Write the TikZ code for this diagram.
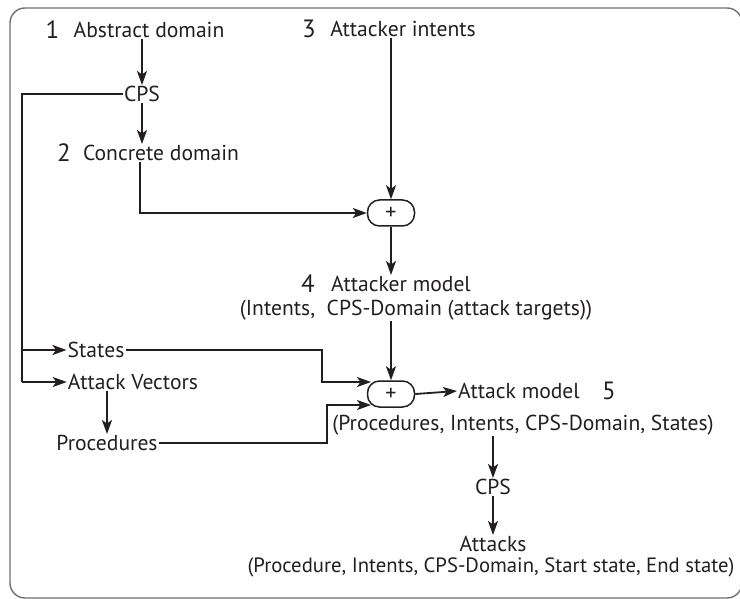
\documentclass[tikz,border=0pt]{standalone}
\usepackage{fontspec}
\setmainfont{PT Sans}
\usetikzlibrary{arrows.meta,positioning}
\definecolor{ink}{HTML}{231F20}
\definecolor{rim}{HTML}{6D6E71}

\begin{document}
\begin{tikzpicture}[x=1pt,y=-1pt,
every node/.style={font=\fontsize{21.6}{24}\selectfont, text=ink, inner sep=1pt},
num/.style={font=\fontsize{25}{28}\selectfont},
sum/.style={draw=ink, line width=1.5pt, rounded corners=12pt, minimum width=47pt, minimum height=26pt, font=\fontsize{22}{22}\selectfont},
line/.style={draw=ink, line width=1.8pt},
arr/.style={line, -{Stealth[length=14pt,width=10pt,inset=3.5pt]}}]
\useasboundingbox (0,0) rectangle (740,599);
\draw [rim, line width=1.4pt, rounded corners=15pt] (10,8) rectangle (742,598);

\node (abs) at (149,30) {Abstract domain};
\node [num, left=12pt of abs] (n_1) {1};
\node (cps_1) at (142,94) {CPS};
\node (conc) at (161,153) {Concrete domain};
\node [num, left=10pt of conc] (n_2) {2};
\node (intents) at (403,29) {Attacker intents};
\node [num, left=12pt of intents] (n_3) {3};
\node [sum] (plus_1) at (391,213) {+};
\node (atkr) at (401,284) {Attacker model};
\node [num, left=14pt of atkr] (n_4) {4};
\node (atkr_d) at (416,310) {(Intents,\ \ CPS-Domain (attack targets))};
\node [sum] (plus_2) at (391,394) {+};
\node (amod) at (519,391) {Attack model};
\node [num, right=20pt of amod] (n_5) {5};
\node (amod_d) at (523,425) {(Procedures, Intents, CPS-Domain, States)};
\node (states) at (96,350) {States};
\node (vec) at (133,382) {Attack Vectors};
\node (proc) at (107,443) {Procedures};
\node (cps_2) at (493,487) {CPS};
\node (atk) at (493,544) {Attacks};
\node [font=\fontsize{20.7}{23}\selectfont] (atk_d) at (491,567) {(Procedure, Intents, CPS-Domain, Start state, End state)};

\coordinate (bus_t) at (22,94);
\coordinate (bus_b) at (22,382);
\coordinate (k_s) at (322,382);
\coordinate (k_p) at (327,405);
\coordinate (in_s) at (371,382);
\coordinate (in_p) at (371,405);

% top: domains and intents
\draw [arr] (cps_1 |- abs.south) -- (cps_1.north);
\draw [arr] (cps_1) -- (cps_1 |- conc.north);
\draw [arr] ([xshift=-21pt]conc.south) |- (plus_1.west);
\draw [arr, line width=1.2pt] (intents.south -| plus_1) -- (plus_1.north);
\draw [arr] (plus_1) -- (plus_1 |- atkr.north);
\draw [arr] (plus_1 |- atkr_d.south) -- (plus_2.north);

% left branch
\draw [line] (cps_1.west) -- (bus_t) -- (bus_b);
\draw [arr] (bus_t |- states) -- (states.west);
\draw [arr] (bus_b) -- (vec.west);
\draw [arr] (vec.south -| proc) -- (proc.north);
\draw [arr] (states.east) -| (k_s) -- (in_s);
\draw [arr] (proc.east) -| (k_p) -- (in_p);

% bottom
\draw [arr] (plus_2.east) -- (amod.west);
\draw [arr] (amod_d.south -| cps_2) -- (cps_2.north);
\draw [arr] (cps_2) -- (atk);
\end{tikzpicture}
\end{document}
